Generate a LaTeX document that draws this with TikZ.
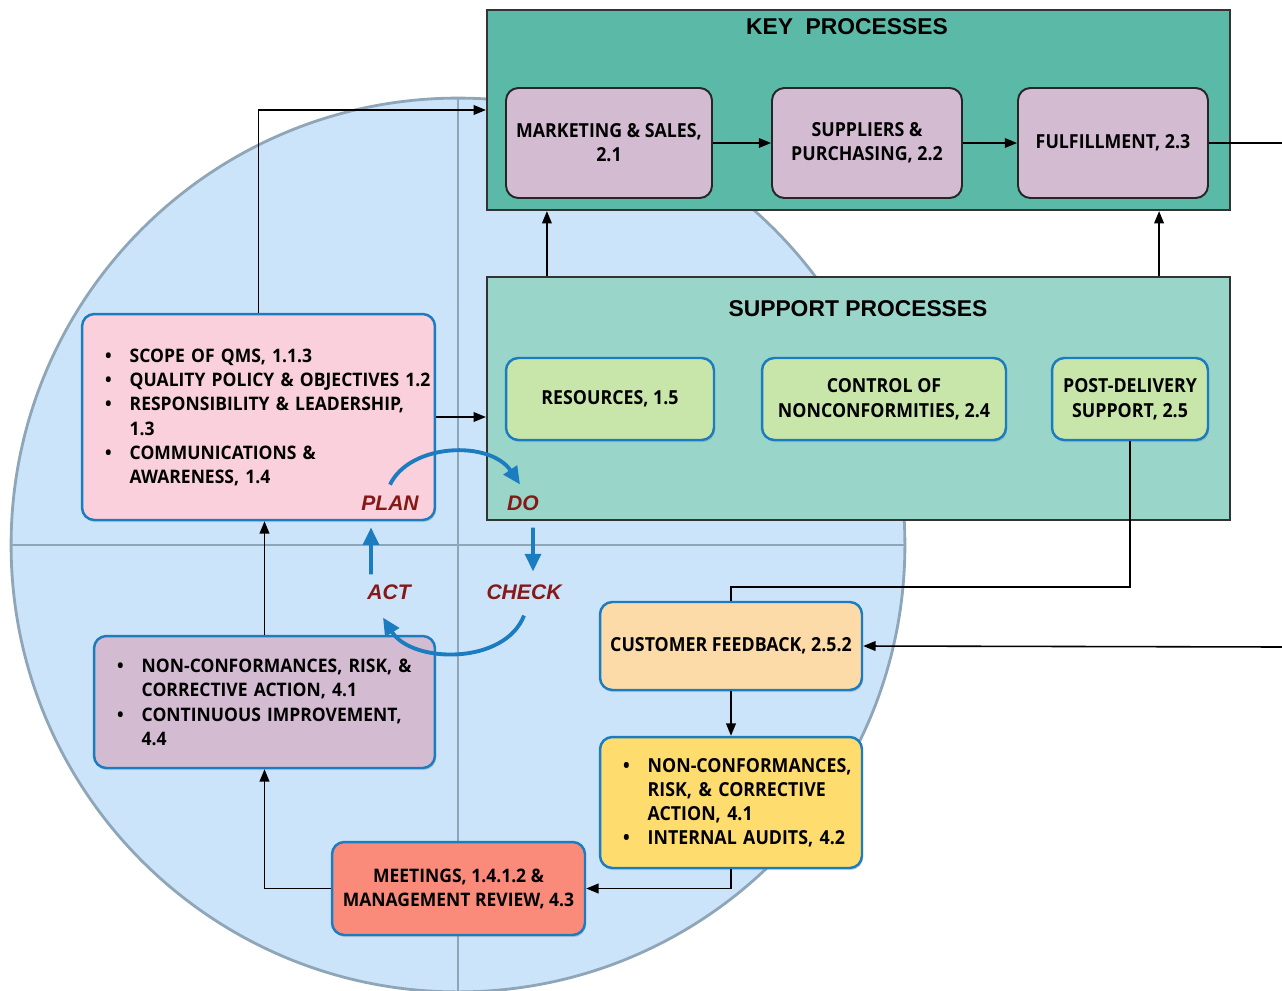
\documentclass[tikz,border=0pt]{standalone}
\usepackage{fontspec}
\setmainfont{Open Sans}
\newfontfamily\boxfont[FakeStretch=0.92]{Open Sans}
\newfontfamily\listfont[FakeStretch=0.94]{Open Sans}
\newfontfamily\ttlfont{Liberation Sans}
\usetikzlibrary{arrows.meta,shadows}

\definecolor{keygreen}{HTML}{5BB9A7}
\definecolor{supgreen}{HTML}{9AD5CA}
\definecolor{lavbox}{HTML}{D3BBD2}
\definecolor{lightgreen}{HTML}{C8E6A9}
\definecolor{pinkbox}{HTML}{F9D0DC}
\definecolor{salmonbox}{HTML}{FA8B7B}
\definecolor{peachbox}{HTML}{FDDBA8}
\definecolor{yellowbox}{HTML}{FEDD6E}
\definecolor{edgeblue}{HTML}{1B7DBF}
\definecolor{cyclefill}{HTML}{CCE4FA}
\definecolor{cycleline}{HTML}{8FA5B8}
\definecolor{pdcared}{HTML}{861818}

\newcommand{\pitem}[1]{\par\exhyphenpenalty=10000\hangindent=26pt\hangafter=1\noindent
  \makebox[26pt][l]{\hspace{12pt}\textbullet}#1\par}
\newcommand{\pend}{\kern5.6pt}

\tikzset{
  groupbox/.style={draw=black!80, line width=1.3pt},
  ttl/.style={font=\ttlfont\bfseries\fontsize{13}{15}\selectfont, inner sep=1pt},
  keybox/.style={draw=black!85, line width=1.1pt, rounded corners=7pt, fill=lavbox,
    minimum height=2.2cm, align=center,
    font=\boxfont\bfseries\fontsize{11}{13.6}\selectfont},
  supbox/.style={draw=edgeblue, line width=1.4pt, rounded corners=7pt, fill=lightgreen,
    minimum height=1.64cm, align=center,
    drop shadow={shadow xshift=0.6pt, shadow yshift=-1.2pt, opacity=0.35},
    font=\boxfont\bfseries\fontsize{11}{14.2}\selectfont},
  roundbox/.style={draw=edgeblue, line width=1.4pt, rounded corners=7pt, align=center,
    drop shadow={shadow xshift=0.6pt, shadow yshift=-1.2pt, opacity=0.35},
    font=\listfont\bfseries\fontsize{10.6}{13.6}\selectfont},
  listbox/.style={draw=edgeblue, line width=1.4pt, rounded corners=7pt,
    inner xsep=0.04cm, align=left,
    drop shadow={shadow xshift=0.6pt, shadow yshift=-1.2pt, opacity=0.35},
    font=\listfont\bfseries\fontsize{10.6}{13.8}\selectfont},
  pdca/.style={text=pdcared, inner sep=1pt,
    font=\ttlfont\bfseries\itshape\fontsize{12}{14}\selectfont},
  link/.style={draw=black, line width=0.9pt},
  cyc/.style={draw=edgeblue, line width=2.2pt,
    -{Triangle[length=10pt,width=9pt]}},
  >={Triangle[length=7pt,width=5.5pt]}
}

\begin{document}
\begin{tikzpicture}[x=0.02cm, y=-0.02cm]
  \useasboundingbox (0,0) rectangle (1282,991);

  % PDCA circle in the background
  \begin{scope}
    \clip (0,0) rectangle (1282,991);
    \fill[cyclefill] (458,545) circle[radius=8.94cm];
    \draw[cycleline, line width=1.6pt] (458,545) circle[radius=8.94cm];
    \draw[cycleline, line width=1.6pt] (458,98) -- (458,992);
    \draw[cycleline, line width=1.6pt] (11,545) -- (905,545);
  \end{scope}

  % Key processes
  \node[groupbox, fill=keygreen, minimum width=14.86cm, minimum height=4cm] (key) at (858.5,110) {};
  \node[ttl] (keyttl) at (847,27) {KEY\ \ PROCESSES};
  \node[keybox, minimum width=4.12cm] (mkt) at (609,143) {MARKETING \& SALES,\\2.1};
  \node[keybox, minimum width=3.8cm] (sup) at (867,143) {SUPPLIERS \&\\PURCHASING, 2.2};
  \node[keybox, minimum width=3.8cm] (ful) at (1113,143) {FULFILLMENT, 2.3};

  % Support processes
  \node[groupbox, fill=supgreen, minimum width=14.86cm, minimum height=4.86cm] (support) at (858.5,398.5) {};
  \node[ttl] (supttl) at (858,309) {SUPPORT PROCESSES};
  \node[supbox, minimum width=4.16cm] (res) at (610,399) {RESOURCES, 1.5};
  \node[supbox, minimum width=4.88cm] (ncctrl) at (884,399) {CONTROL OF\\NONCONFORMITIES, 2.4};
  \node[supbox, minimum width=3.12cm] (post) at (1130,399) {POST-DELIVERY\\SUPPORT, 2.5};

  % Plan and act
  \node[listbox, fill=pinkbox, text width=6.98cm, minimum height=4.12cm] (plan) at (258.5,417) {%
    \pitem{SCOPE OF QMS, 1.1.3}
    \pitem{QUALITY POLICY \& OBJECTIVES 1.2}
    \pitem{RESPONSIBILITY \& LEADERSHIP,\newline 1.3}
    \pitem{COMMUNICATIONS \&\newline AWARENESS, 1.4}\pend};
  \node[listbox, fill=lavbox, text width=6.74cm, minimum height=2.64cm] (act) at (264.5,702) {%
    \pitem{NON-CONFORMANCES, RISK, \&\newline CORRECTIVE ACTION, 4.1}
    \pitem{CONTINUOUS IMPROVEMENT,\newline 4.4}\pend};

  % Check side
  \node[roundbox, fill=peachbox, minimum width=5.24cm, minimum height=1.76cm,
    font=\boxfont\bfseries\fontsize{11}{13.6}\selectfont] (cfb) at (731,646) {CUSTOMER FEEDBACK, 2.5.2};
  \node[listbox, fill=yellowbox, text width=5.16cm, minimum height=2.62cm,
    font=\boxfont\bfseries\fontsize{11}{13.8}\selectfont] (ncaud) at (731,802.5) {%
    \pitem{NON-CONFORMANCES,\newline RISK, \& CORRECTIVE\newline ACTION, 4.1}
    \pitem{INTERNAL AUDITS, 4.2}\pend};
  \node[roundbox, fill=salmonbox, minimum width=5.06cm, minimum height=1.86cm] (meet) at (458.5,888.5) {MEETINGS, 1.4.1.2 \&\\MANAGEMENT REVIEW, 4.3};

  % Connectors
  \draw[link,->] (mkt) -- (sup);
  \draw[link,->] (sup) -- (ful);
  \coordinate (outR) at (1282,143);
  \draw[link] (ful) -- (outR);
  \draw[link,->] ([xshift=1.22cm]support.north west) -- ([xshift=1.22cm]key.south west);
  \draw[link,->] ([xshift=-1.44cm]support.north east) -- ([xshift=-1.44cm]key.south east);
  \draw[link,->] (plan.north) |- (key.west);
  \draw[link,->] (plan.east) -- (plan.east -| support.west);
  \coordinate (fbturn) at (731,587);
  \draw[link] (post.south) |- (fbturn) -- (cfb.north);
  \coordinate (inR) at (1282,647);
  \draw[link,->] (inR) -- (cfb.east);
  \draw[link,->] (cfb) -- (ncaud);
  \draw[link,->] (ncaud.south) |- (meet.east);
  \draw[link,->] (meet.west) -| (act.south);
  \draw[link,->] (act.north) -- (act.north |- plan.south);

  % PDCA labels and cycle
  \node[pdca] (plantxt) at (390,503) {PLAN};
  \node[pdca] (dotxt) at (523,503) {DO};
  \node[pdca] (acttxt) at (389,592) {ACT};
  \node[pdca] (checktxt) at (524,592) {CHECK};
  \draw[cyc] ([yshift=0.18cm]plantxt.north) .. controls (410,443) and (490,440) .. ([xshift=-0.06cm,yshift=0.18cm]dotxt.north);
  \draw[cyc] ([xshift=0.2cm,yshift=-0.3cm]dotxt.south) -- ([xshift=0.18cm,yshift=0.22cm]checktxt.north);
  \draw[cyc] ([yshift=-0.28cm]checktxt.south) .. controls (505,665) and (412,664) .. ([xshift=-0.12cm,yshift=-0.32cm]acttxt.south);
  \draw[cyc] ([xshift=-0.36cm,yshift=0.16cm]acttxt.north) -- ([xshift=-0.38cm,yshift=-0.3cm]plantxt.south);
\end{tikzpicture}
\end{document}
